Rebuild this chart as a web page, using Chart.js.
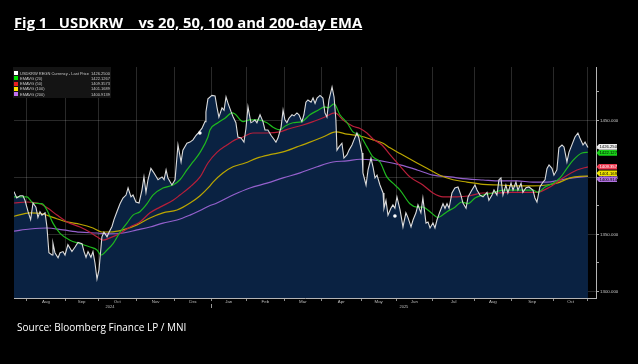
<!DOCTYPE html>
<html>
<head>
<meta charset="utf-8">
<script src="https://cdn.jsdelivr.net/npm/chart.js@4.4.1/dist/chart.umd.min.js"></script>
<style>
html, body { margin: 0; padding: 0; background: #000; }
#wrap { position: relative; width: 638px; height: 364px; overflow: hidden; background: #000; }
#c { position: absolute; left: 0; top: 0; }
#title { position: absolute; left: 14px; top: 14px; color: #fff; font: bold 14.8px "Open Sans", sans-serif; line-height: 16px; text-decoration: underline; white-space: pre; }
#source { position: absolute; left: 17px; top: 321px; color: #fff; font: 10px "Open Sans", sans-serif; line-height: 12px; }
#legend { position: absolute; left: 13px; top: 67px; width: 98px; height: 31px; background: #141414; color: #c8c8c8; font: 4px "Liberation Sans", sans-serif; }
.row { position: absolute; left: 1px; right: 1px; height: 5px; line-height: 5px; white-space: nowrap; }
.sw { position: absolute; left: 0; top: 0.5px; width: 4px; height: 4px; }
.nm { position: absolute; left: 6px; }
.vl { position: absolute; right: 0; }
</style>
</head>
<body>
<div id="wrap">
  <canvas id="c" width="638" height="364"></canvas>
  <div id="title">Fig 1   USDKRW    vs 20, 50, 100 and 200-day EMA</div>
  <div id="legend"></div>
  <div id="source">Source: Bloomberg Finance LP / MNI</div>
</div>
<script>
'use strict';
// x values are trading-session numbers counted from the first bar (late Jul 2024)
const monthStarts = [7, 28, 46, 67, 88, 108, 127, 148, 168, 190, 209, 229, 252, 272, 295];
const monthNames = ['Aug', 'Sep', 'Oct', 'Nov', 'Dec', 'Jan', 'Feb', 'Mar', 'Apr', 'May', 'Jun', 'Jul', 'Aug', 'Sep', 'Oct'];
const lastSession = 314;
const yearNames = ['2024', '2025'];
const yearPos = [52.5, 213.3];
const yearBreak = 108;
const yTicks = [1300, 1325, 1350, 1375, 1400, 1425, 1450, 1475];

const priceX = [0, 1.5, 3.3, 4.9, 6, 7.7, 9.1, 10.4, 12, 13.1, 14.2, 15.3, 17, 18, 19.1, 20.8, 21.3, 22.4, 24.1, 25.2,
  26.8, 27.9, 29.5, 31.7, 33.4, 35, 37.2, 38.3, 39.4, 40.5, 42.1, 43.2, 44.3, 45.4, 46.5, 48.1, 49.2, 50.9, 52, 53.6,
  54.7, 56.3, 58, 59.6, 61.3, 62.4, 64, 65.1, 66.7, 68.4, 70, 71.1, 72.2, 73.3, 74.9, 76.6, 78.8, 81, 82.1, 83.2,
  84.2, 86.4, 88.1, 89.7, 91.4, 92.4, 94.6, 96.3, 97.9, 99.6, 100.7, 102.8, 104.5, 105, 106.1, 108.3, 110, 111, 112.1, 113.8,
  114.9, 116, 117.1, 118.8, 119.9, 121.4, 122.5, 124.2, 125.8, 126.9, 128, 129.6, 130.7, 131.8, 132.9, 134.6, 136.2, 137.3, 138.9, 140.6,
  141.7, 143.3, 144.4, 146.1, 147.2, 148.2, 149.3, 150.4, 152.1, 153.2, 154.8, 155.9, 157.5, 158.6, 159.7, 160.8, 162.5, 163.6, 164.7, 165.8,
  167.4, 169, 170.1, 171.2, 172.3, 174, 175.1, 176.1, 176.7, 177.8, 179.4, 180.5, 182.2, 183.3, 184.9, 186, 187.6, 188.7, 190.4, 190.9,
  192.6, 193.7, 195.3, 196.4, 197.5, 198.6, 200.2, 201.9, 202.4, 203.5, 204.6, 206.2, 207.3, 208.4, 209.5, 211.2, 212.8, 214.4, 215.5, 217.2,
  218.3, 219.9, 221, 222.6, 223.7, 225.4, 226.5, 227.6, 229.2, 230.3, 231.4, 233, 234.7, 235.8, 236.9, 238, 239.6, 241.2, 242.9, 244.5,
  245.6, 247.3, 248.4, 250.5, 252.2, 253.3, 254.9, 256.6, 258.8, 259.8, 261.5, 262.6, 264.2, 265.3, 266.4, 267.5, 269.1, 270.2, 271.9, 273,
  274.6, 275.7, 277.4, 278.4, 280.1, 281.7, 283.9, 285, 286.1, 287.7, 289.4, 290.5, 291.6, 292.7, 294.3, 295.4, 297, 298.1, 299.8, 300.9,
  302.5, 303.6, 305.8, 306.9, 308.5, 309.6, 311.3, 312.4, 314];
const priceY = [1387.6, 1382, 1384, 1384, 1380, 1370, 1363, 1377.6, 1374, 1365, 1370, 1367, 1369, 1357, 1334, 1332, 1342.5, 1334, 1329.5, 1334,
  1335, 1332, 1341, 1335, 1339, 1343, 1342, 1335, 1330, 1335, 1330, 1335, 1325, 1311, 1319, 1348, 1352, 1348, 1352, 1357,
  1363, 1370, 1377, 1382, 1384.6, 1390.8, 1383, 1384.6, 1378.5, 1377.6, 1389, 1400.5, 1387, 1398, 1408, 1404, 1398, 1400.5, 1398, 1406.6,
  1399.6, 1393.4, 1398, 1428.5, 1413.6, 1424, 1430, 1431, 1433, 1437, 1439, 1443, 1449, 1457.5, 1469, 1472, 1471.5, 1462, 1453, 1461,
  1459, 1470.6, 1465, 1457.5, 1453, 1448, 1435.5, 1434.6, 1431, 1443, 1462, 1448, 1449, 1450.5, 1448, 1455, 1449, 1441.7, 1441.7, 1437,
  1434.6, 1431, 1434.6, 1444, 1459, 1450.5, 1448, 1452, 1455, 1454, 1456.6, 1455, 1449, 1455, 1466, 1468, 1466, 1469.7, 1465, 1469.7,
  1472, 1469.7, 1456.6, 1453, 1468, 1479.4, 1470.6, 1450.5, 1424, 1426.8, 1430, 1417, 1420, 1424, 1428.5, 1433, 1439, 1434.6, 1421.5, 1404,
  1393.4, 1406.6, 1417, 1409.4, 1399.6, 1402, 1393.4, 1386.4, 1373, 1380, 1367, 1373, 1376, 1373, 1383, 1371.5, 1356.6, 1369, 1365, 1356.6,
  1362.7, 1369, 1376, 1369, 1382, 1360, 1361, 1355.7, 1360, 1355.7, 1362.7, 1370, 1377, 1373, 1377, 1373, 1386.4, 1390.8, 1391.7, 1384.6,
  1377.6, 1373, 1383, 1389, 1393.4, 1389, 1384.6, 1383, 1387, 1380, 1384.6, 1389, 1384.6, 1398, 1399.6, 1384.6, 1393.4, 1386.4, 1395, 1389,
  1396, 1389, 1395, 1387, 1391, 1391.7, 1389, 1382, 1378.5, 1391.7, 1396, 1398, 1408, 1411, 1408, 1402, 1406.6, 1426, 1428.5, 1426.8,
  1413.6, 1422, 1431, 1435.5, 1439, 1434.6, 1428.5, 1431, 1426.25];

const ema20X = [0, 7.1, 10.4, 15.3, 18, 21.3, 25.2, 30.6, 36.1, 41.6, 45.4, 47.6, 50.9, 54.2, 58, 61.8, 65.1, 68.9, 72.8, 76,
  81.5, 87, 90.8, 94.6, 97.9, 101.8, 106.1, 107.2, 111.6, 115.4, 119.3, 120.9, 125.3, 129.1, 133.5, 138.4, 141.7, 145.5, 148.2, 152.6,
  157.5, 161.9, 166.3, 170.1, 171.8, 175.1, 178.3, 182.2, 185.4, 189.3, 193.1, 196.4, 200.2, 204, 207.3, 211.2, 216.6, 220.5, 223.7, 227.6,
  231.9, 236.9, 241.2, 245, 248.4, 252.2, 256.6, 262, 267.5, 273, 278.4, 283.9, 286.6, 290.5, 294.9, 298.7, 302.5, 305.8, 310.7, 314];
const ema20 = [1383, 1383, 1377.6, 1377, 1371.5, 1360, 1351, 1345, 1342, 1339, 1336.4, 1332, 1336.4, 1342, 1352, 1360, 1367, 1370, 1377, 1384.6,
  1390.8, 1393.4, 1398, 1406.6, 1413.6, 1422, 1435.5, 1441.7, 1448, 1452, 1456.6, 1455.7, 1449, 1450.5, 1450.5, 1448, 1444, 1441.7, 1445, 1448,
  1449, 1455, 1459, 1462, 1461, 1464.5, 1455, 1448, 1440, 1437, 1426.8, 1418, 1413.6, 1400.5, 1395, 1389, 1377, 1374, 1374, 1370,
  1365, 1370, 1374, 1378.5, 1377, 1382, 1384.6, 1386.4, 1389, 1389, 1389, 1389, 1387, 1391.7, 1395, 1399.6, 1408, 1415, 1421.5, 1422.13];

const ema50X = [0, 7.1, 14.2, 18.6, 23.5, 29, 36.1, 41.6, 45.4, 48.7, 52.5, 58, 63.5, 68.9, 74.4, 79.9, 87, 90.8, 96.3, 101.8,
  106.1, 111, 116.5, 120.9, 125.3, 130.7, 138.4, 145.5, 151, 158.1, 163.6, 170.1, 175.6, 180, 185.4, 189.3, 193.1, 196.4, 201.3, 205.7,
  211.2, 216.6, 223.7, 229.2, 234.7, 242.3, 249.5, 256.6, 264.2, 271.3, 278.4, 286.1, 293.2, 300.3, 308, 314];
const ema50 = [1377.6, 1378.5, 1377, 1373, 1367, 1361, 1356.6, 1352, 1348, 1345, 1347, 1351, 1356.6, 1361, 1369, 1374, 1380, 1384.6, 1391.7, 1400.5,
  1412.7, 1422, 1428.5, 1433, 1435.5, 1439, 1439, 1440, 1443, 1446, 1449, 1453, 1456.6, 1450.5, 1445, 1443, 1439, 1433.8, 1428.5, 1420,
  1410, 1400.5, 1393.4, 1386.4, 1383, 1383, 1384, 1386.4, 1386.4, 1387, 1387, 1387, 1391.7, 1399.6, 1406.6, 1409.36];

const ema100X = [0, 8.8, 15.9, 21.3, 29, 36.1, 43.2, 48.1, 52.5, 59.6, 67.3, 74.4, 81.5, 89.2, 96.3, 101.8, 106.7, 108.9, 114.3, 119.8,
  126.4, 132.9, 140, 147.2, 154.8, 161.9, 169, 176.1, 182.2, 189.3, 196.4, 201.9, 205.7, 211.2, 220.5, 227.6, 233, 240.2, 247.8, 256.6,
  265.9, 275.2, 283.9, 291.6, 297, 304.2, 309.6, 314];
const ema100 = [1366, 1369, 1368, 1365, 1361, 1359, 1355.7, 1352.2, 1352.2, 1354, 1358.4, 1364.5, 1369, 1371.5, 1377.6, 1384, 1391.7, 1396, 1404, 1409.4,
  1412.7, 1417, 1420, 1422.4, 1426.8, 1431, 1435.5, 1440, 1438, 1436.4, 1433, 1430, 1426, 1421, 1412.7, 1406.6, 1402, 1398, 1396, 1394,
  1393.4, 1392.6, 1392.6, 1393.4, 1395, 1399.6, 1401, 1401.17];

const ema200X = [0, 8.8, 18, 26.8, 36.1, 45.4, 52.5, 59.6, 67.3, 74.4, 81.5, 89.2, 96.3, 101.8, 106.7, 111, 119.8, 129.1, 138.4, 147.2,
  156.5, 165.8, 174.5, 182.2, 189.3, 196.4, 204, 211.2, 220.5, 229.2, 238.5, 247.8, 256.6, 265.9, 275.2, 283.9, 291.6, 298.7, 305.8, 314];
const ema200 = [1353, 1354.8, 1355.7, 1354, 1352, 1351.3, 1350.5, 1351.3, 1354, 1356.6, 1360, 1362.7, 1367, 1371, 1375, 1377.6, 1384.6, 1390.8, 1395, 1399.6,
  1404, 1409.4, 1413.6, 1414.5, 1416, 1415.4, 1413.6, 1411, 1406.6, 1402, 1400.5, 1398.7, 1397.8, 1397, 1397, 1396, 1396, 1397.8, 1399.6, 1400.91];

const markX = [101.7, 208.4];
const markY = [1439, 1366.2];

const legendNames = ['USDKRW REGN Currency - Last Price', 'EMAVG (20)', 'EMAVG (50)', 'EMAVG (100)', 'EMAVG (200)'];
const legendValues = ['1426.2500', '1422.1267', '1409.3573', '1401.1689', '1400.9139'];
const tagValues = [1426.25, 1422.127, 1409.357, 1401.169, 1400.914];
const swatchColors = ['#ffffff', '#00e000', '#e82020', '#ffe600', '#c070f0'];
const lineColors = ['#dcdcdc', '#1fb81f', '#b81f3a', '#bba600', '#9460cc'];
const tagColors = ['#eeeeee', '#19d219', '#ee3a50', '#eee200', '#b070e0'];
const tagText = ['#000', '#000', '#fff', '#000', '#000'];

const legendBox = document.getElementById('legend');
legendNames.forEach((n, i) => {
  const row = document.createElement('div');
  row.className = 'row';
  row.style.top = (3.5 + 5.3 * i) + 'px';
  row.innerHTML = '<span class="sw" style="background:' + swatchColors[i] + '"></span><span class="nm">' + n + '</span><span class="vl">' + legendValues[i] + '</span>';
  legendBox.appendChild(row);
});

const toPts = (xs, ys) => xs.map((x, i) => ({x: x, y: ys[i]}));
const monthMids = monthStarts.map((m, i) => (m + (i + 1 < monthStarts.length ? monthStarts[i + 1] : lastSession)) / 2);
const tickFamily = '"Liberation Sans Narrow", "Liberation Sans", sans-serif';

const emaSet = (xs, ys, i) => ({
  data: toPts(xs, ys), borderColor: lineColors[i], borderWidth: 1.2, pointRadius: 0,
  tension: 0.4, cubicInterpolationMode: 'monotone', fill: false, order: 2, xAxisID: 'x', yAxisID: 'y'
});

const sideTags = {
  id: 'sideTags',
  afterDraw(chart) {
    const c = chart.ctx, ys = chart.scales.y, xs = chart.scales.x, yr = chart.scales.xy;
    // year separator mark under the axis
    const bx = Math.round(xs.getPixelForValue(yearBreak)) + 0.5;
    c.save();
    c.strokeStyle = '#9a9a9a';
    c.lineWidth = 1;
    c.beginPath(); c.moveTo(bx, yr.top); c.lineTo(bx, yr.top + 4); c.stroke();
    // last value tags, pushed apart when they overlap
    const tags = tagValues.map((v, i) => ({i: i, py: ys.getPixelForValue(v)}));
    const sorted = tags.slice().sort((a, b) => a.py - b.py);
    for (let k = 0; k < 20; k++) {
      for (let j = 1; j < sorted.length; j++) {
        const d = 6 - (sorted[j].py - sorted[j - 1].py);
        if (d > 0) { sorted[j - 1].py -= d / 2; sorted[j].py += d / 2; }
      }
    }
    const x0 = ys.left;
    c.font = '4.2px ' + tickFamily;
    c.textBaseline = 'middle';
    for (let k = tags.length - 1; k >= 0; k--) {
      const t = tags[k];
      c.fillStyle = tagColors[t.i];
      c.beginPath();
      c.moveTo(x0 + 0.5, t.py);
      c.lineTo(x0 + 3, t.py - 2.8);
      c.lineTo(x0 + 21, t.py - 2.8);
      c.lineTo(x0 + 21, t.py + 2.8);
      c.lineTo(x0 + 3, t.py + 2.8);
      c.closePath();
      c.fill();
      c.fillStyle = tagText[t.i];
      c.fillText(tagValues[t.i].toFixed(3), x0 + 3.5, t.py + 0.2);
    }
    c.restore();
  }
};

new Chart(document.getElementById('c').getContext('2d'), {
  type: 'line',
  data: {
    datasets: [
      {type: 'scatter', data: toPts(markX, markY), pointRadius: 1.8, pointBackgroundColor: '#ffffff', pointBorderWidth: 0, order: 0, xAxisID: 'x', yAxisID: 'y'},
      {data: toPts(priceX, priceY), borderColor: lineColors[0], borderWidth: 1.1, pointRadius: 0, tension: 0,
        fill: 'start', backgroundColor: '#0a2242', order: 1, xAxisID: 'x', yAxisID: 'y'},
      emaSet(ema20X, ema20, 1),
      emaSet(ema50X, ema50, 2),
      emaSet(ema100X, ema100, 3),
      emaSet(ema200X, ema200, 4)
    ]
  },
  options: {
    responsive: false,
    animation: false,
    devicePixelRatio: 1,
    layout: {padding: {left: 14, top: 67, right: 0, bottom: 54}},
    plugins: {legend: {display: false}, tooltip: {enabled: false}, filler: {drawTime: 'beforeDatasetsDraw'}},
    scales: {
      x: {
        type: 'linear', position: 'bottom', weight: 0, min: 0, max: 318.4,
        afterBuildTicks: s => { s.ticks = monthStarts.concat([lastSession]).map(v => ({value: v})); },
        afterFit: s => { s.height = 1; },
        ticks: {display: false},
        grid: {color: 'rgba(255,255,255,0.16)', tickColor: '#8c8c8c', tickLength: 3},
        border: {color: '#b4b4b4'}
      },
      xl: {
        type: 'linear', position: 'bottom', weight: 1, min: 0, max: 318.4,
        afterBuildTicks: s => { s.ticks = monthMids.map(v => ({value: v})); },
        afterFit: s => { s.height = 5; },
        ticks: {autoSkip: false, maxRotation: 0, padding: 0, color: '#bdbdbd', font: {family: tickFamily, size: 4.4}, callback: (v, i) => monthNames[i]},
        grid: {display: false, drawTicks: false},
        border: {display: false}
      },
      xy: {
        type: 'linear', position: 'bottom', weight: 2, min: 0, max: 318.4,
        afterBuildTicks: s => { s.ticks = yearPos.map(v => ({value: v})); },
        afterFit: s => { s.height = 6; },
        ticks: {autoSkip: false, maxRotation: 0, padding: 0, color: '#bdbdbd', font: {family: tickFamily, size: 4}, callback: (v, i) => yearNames[i]},
        grid: {display: false, drawTicks: false},
        border: {display: false}
      },
      y: {
        type: 'linear', position: 'right', min: 1294.3, max: 1496.9,
        afterBuildTicks: s => { s.ticks = yTicks.map(v => ({value: v})); },
        afterFit: s => { s.width = 42; },
        ticks: {padding: 1, color: '#c8c8c8', font: {family: tickFamily, size: 4.4}, callback: v => (v % 50 === 0 ? v.toFixed(3) : '')},
        grid: {
          color: c => (c.tick && c.tick.value % 50 === 0 ? 'rgba(255,255,255,0.16)' : 'rgba(0,0,0,0)'),
          tickColor: '#a8a8a8', tickLength: 3
        },
        border: {color: '#b4b4b4'}
      }
    }
  },
  plugins: [sideTags]
});
</script>
</body>
</html>
